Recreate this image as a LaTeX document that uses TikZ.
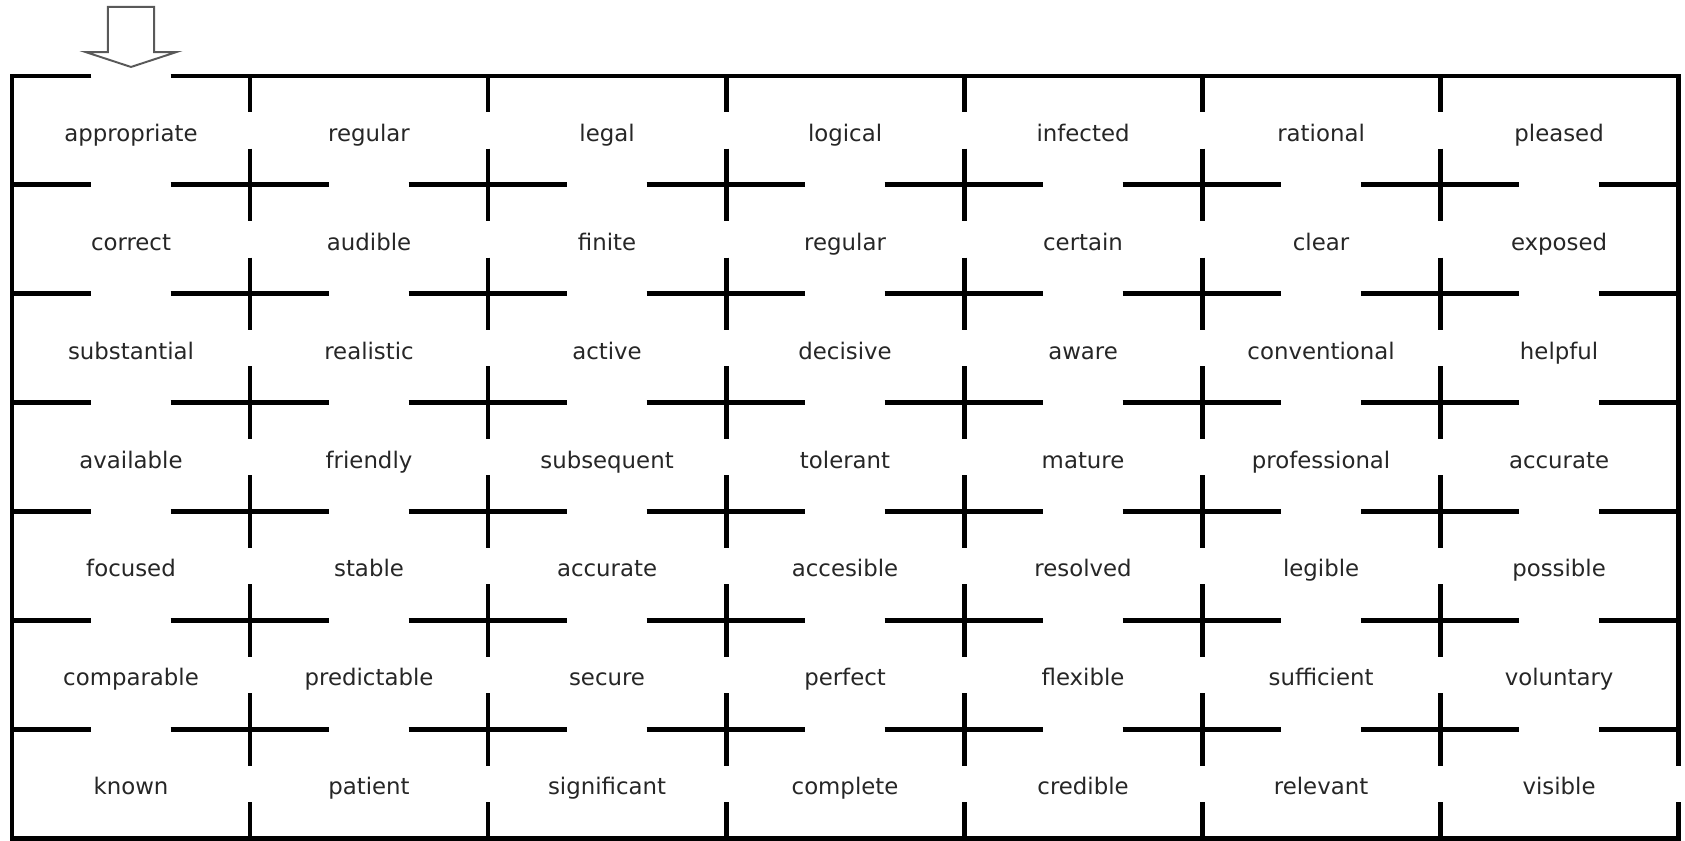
\documentclass[tikz,border=0pt]{standalone}
\usepackage{fontspec}
\setmainfont{DejaVu Sans}
\usetikzlibrary{positioning}

\begin{document}
\begin{tikzpicture}[x=4.76cm,y=-2.178cm,
  wall/.style={line width=2.8pt,black},
  word/.style={anchor=base,inner sep=0pt,text=black!85,font=\fontsize{13pt}{15pt}\selectfont}]
\useasboundingbox (-0.0504,-0.698) rectangle (7.029,7.018);
% way in
\draw[line width=1.1pt,black!65,fill=white] (0.403,-0.634) -- (0.597,-0.634) -- (0.597,-0.22) -- (0.691,-0.22) -- (0.5,-0.083) -- (0.309,-0.22) -- (0.403,-0.22) -- cycle;
% outer walls, open at the top left and the bottom right
\draw[wall,line join=miter] (1/3,0) -- (0,0) -- (0,7) -- (7,7) -- (7,6+2/3);
\draw[wall,line join=miter] (2/3,0) -- (7,0) -- (7,6+1/3);
% inner walls
\foreach \i in {1,...,6}
  \foreach \j in {0,...,6} {
    \draw[wall] (\i,\j) -- (\i,\j+1/3) (\i,\j+2/3) -- (\i,\j+1);
    \draw[wall] (\j,\i) -- (\j+1/3,\i) (\j+2/3,\i) -- (\j+1,\i);
  }
% words
\foreach \row [count=\r] in {
  {appropriate,regular,legal,logical,infected,rational,pleased},
  {correct,audible,finite,regular,certain,clear,exposed},
  {substantial,realistic,active,decisive,aware,conventional,helpful},
  {available,friendly,subsequent,tolerant,mature,professional,accurate},
  {focused,stable,accurate,accesible,resolved,legible,possible},
  {comparable,predictable,secure,perfect,flexible,sufficient,voluntary},
  {known,patient,significant,complete,credible,relevant,visible}}
  \foreach \w [count=\c] in \row
    \node[word] (w\r\c) at (\c-0.5,\r-0.40) {\w};
\end{tikzpicture}
\end{document}
